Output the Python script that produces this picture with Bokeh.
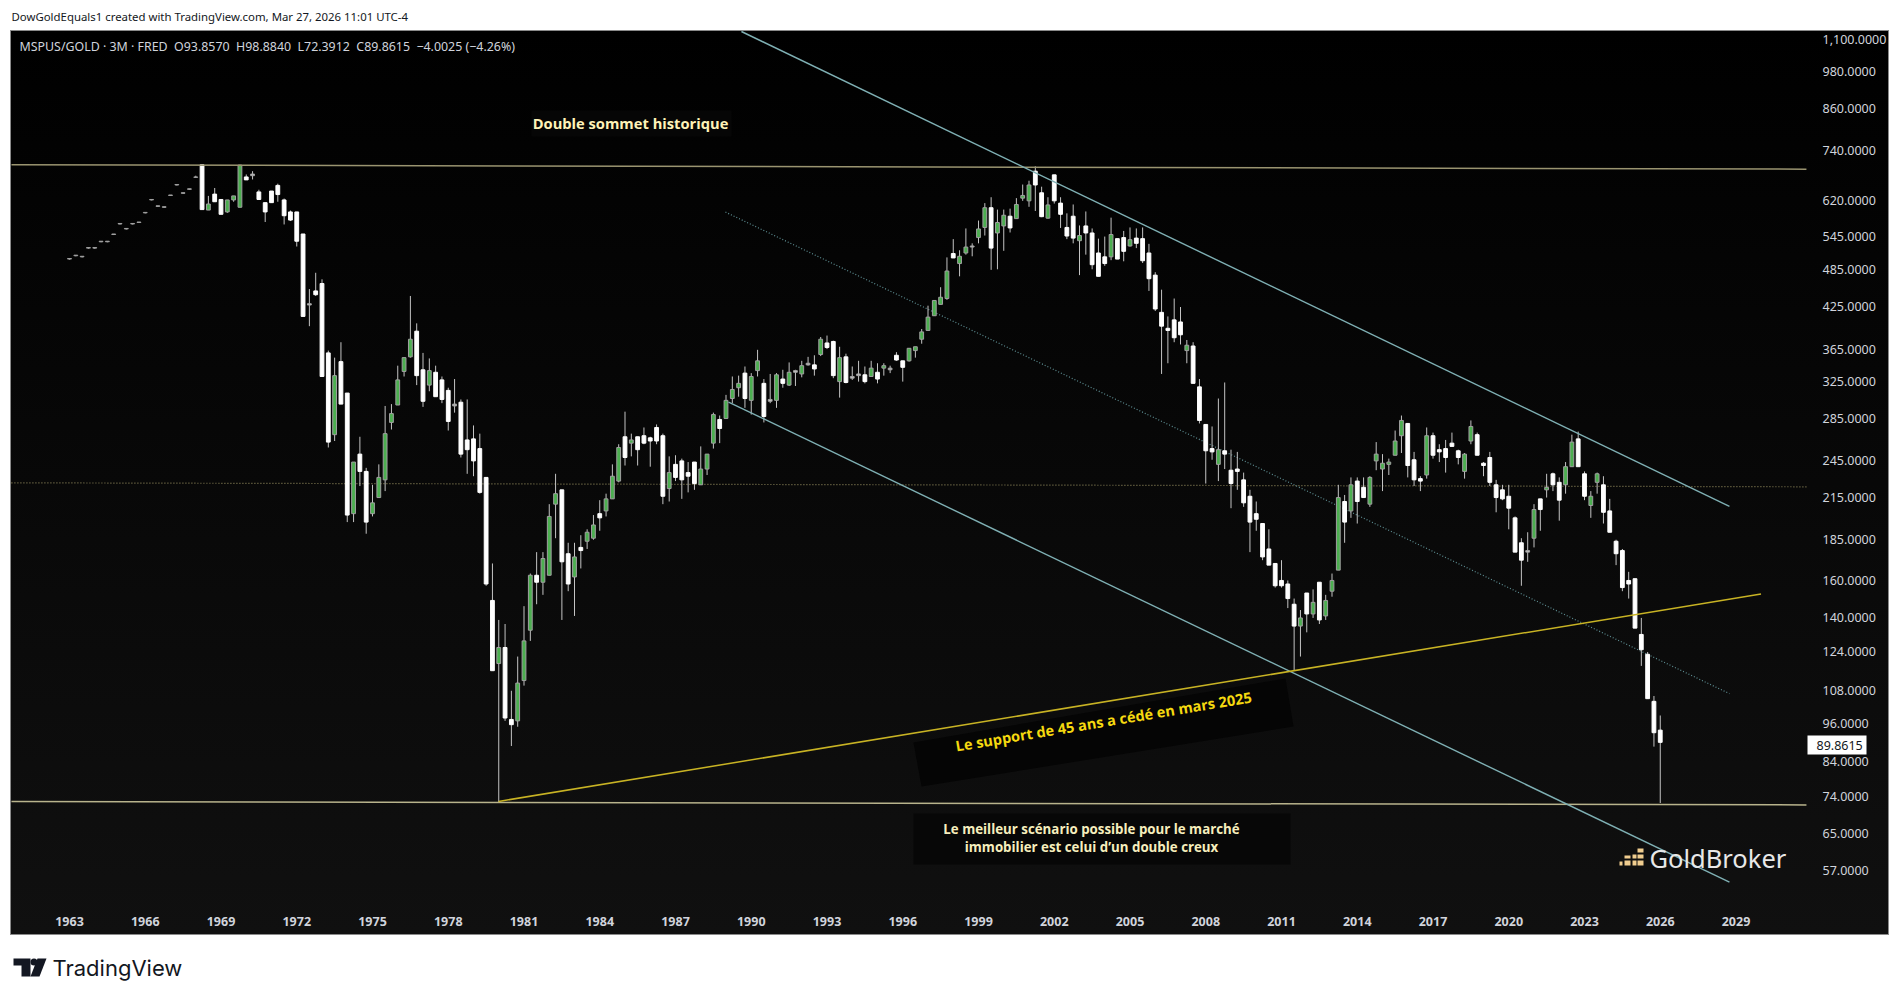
import math
from bokeh.embed import file_html
from bokeh.resources import INLINE
from bokeh.plotting import figure
from bokeh.models import Label, FixedTicker, NumeralTickFormatter, ColumnDataSource

years_start = 1963.0
quarter = 0.25

opens = [504,510,508,524,524,536,536,550,571,561,571,574,594,622,608,606,632,656,637,646,
 674,704,599,634,622,595,621,605,674,681,639,615,641,654,621,595,595,550,429,449,
 461,360,269,349,312,203,251,236,203,215,229,281,299,337,355,389,339,321,336,327,
 315,300,302,264,265,256,231,149,119,126,97.5,97,112,134,163,159,163,210,221,176,
 162,180,184,186,203,205,214,228,267,261,267,268,266,276,268,222,242,245,235,244,
 225,238,261,284,285,306,318,335,304,338,323,303,304,328,321,338,334,347,345,358,
 373,375,325,355,331,334,333,331,336,341,341,357,350,350,363,378,390,411,428,437,
 513,495,514,527,543,563,604,552,566,586,581,625,619,688,637,582,679,614,563,586,
 537,566,552,514,507,507,541,543,527,542,541,514,475,416,393,405,402,363,369,319,
 279,256,242,254,237,238,229,216,203,196,179,170,160,158,147,136,153,142,159,141,
 154,166,212,205,228,223,210,245,238,242,250,268,280,246,230,233,268,255,256,261,
 254,236,263,269,243,248,225,221,216,200,183,178,186,214,221,234,227,225,240,265,
 234,209,227,225,205,184,178,160,161,132,123,104,93.857]
highs = [504,510,508,524,524,536,536,550,571,561,571,574,594,622,608,606,632,656,637,646,
 677,704,630,648,622,621,630,704,680,688,644,615,641,658,624,598,595,550,452,479,
 468,363,354,374,312,244,267,239,225,242,298,300,344,354,441,400,360,353,344,331,
 318,328,305,305,278,270,231,170,139,137,108,122,146,164,177,177,210,234,221,183,
 183,188,192,202,213,218,242,260,292,270,267,276,267,279,270,249,250,247,244,244,
 258,251,291,288,310,331,332,343,335,364,328,334,335,339,348,339,350,355,357,381,
 383,376,368,359,343,350,343,350,347,347,344,361,350,366,368,392,426,434,455,506,
 540,519,561,532,577,614,627,600,600,602,625,656,665,700,651,627,679,627,592,611,
 567,596,561,541,545,583,541,556,563,561,563,531,480,451,410,437,424,377,374,328,
 279,277,306,324,255,253,235,221,212,196,192,170,172,160,150,144,153,155,159,152,
 164,225,217,231,231,231,232,262,251,247,273,288,280,253,232,276,271,260,264,271,
 255,252,283,271,244,253,229,225,225,201,186,190,210,214,234,235,231,244,269,272,
 236,220,235,232,214,185,179,165,161,140,124,106,98.884]
lows = [502,508,506,522,522,534,534,548,569,559,569,572,592,620,606,604,630,654,635,644,
 672,600,599,617,590,593,617,605,667,668,622,574,615,617,569,576,526,410,396,441,
 331,257,263,300,197,197,224,189,201,215,220,274,299,331,354,321,297,314,308,301,
 273,291,248,234,232,218,157,116,72.5,97,88.7,95,110,129,147,152,163,186,139,154,
 141,167,179,185,191,201,214,227,241,249,241,260,240,260,210,212,228,214,219,221,
 225,233,256,261,285,301,308,296,289,331,281,301,296,318,320,320,330,344,332,356,
 365,329,307,323,327,325,323,331,323,332,335,350,325,349,354,372,390,411,428,435,
 505,473,511,508,532,547,484,485,518,553,581,619,606,597,584,581,613,562,540,532,
 475,511,485,473,491,501,503,499,526,523,496,449,418,334,347,374,371,347,323,280,
 226,246,228,238,207,221,208,177,191,172,169,156,156,145,116,122,133,140,137,139,
 151,166,183,200,196,215,208,237,220,233,250,252,231,224,220,230,247,244,235,258,
 242,230,260,250,232,224,204,213,192,177,157,171,180,191,215,220,198,218,240,240,
 213,200,218,196,190,169,154,150,135,118,105,88.5,72.3912]
closes = [503,509,507,523,523,535,535,549,570,560,570,573,593,621,607,605,631,655,636,645,
 673,600,612,617,590,621,630,703,667,677,622,595,615,633,587,578,536,410,427,443,
 331,262,332,300,202,244,236,197,211,231,270,290,327,354,378,332,303,338,308,305,
 282,298,251,255,245,219,158,116,126,98,95.7,111,129,163,159,173,201,218,171,158,
 174,178,190,195,200,214,232,257,248,264,255,261,263,263,216,235,231,229,232,226,
 238,251,289,275,304,316,323,306,331,350,287,305,333,323,336,336,344,345,340,378,
 367,332,354,324,329,332,325,341,328,344,339,351,342,366,368,388,409,434,439,482,
 505,508,525,525,560,604,523,573,588,562,611,631,655,655,585,610,619,590,546,542,
 547,552,493,473,495,549,503,517,539,532,500,469,421,396,390,380,384,370,323,283,
 254,253,255,251,226,236,211,197,199,174,169,157,157,150,136,140,142,148,139,149,
 160,215,197,225,212,215,231,251,243,244,263,283,241,229,228,268,250,253,248,258,
 248,251,277,250,241,227,215,214,207,177,172,177,206,206,223,225,213,240,262,240,
 216,216,234,204,190,176,156,158,135,125,105,93,89.8615]

top_ceiling_x = [1960.70, 2031.79]
top_ceiling_y = [704, 693]
floor_x = [1960.70, 2031.79]
floor_y = [72.8, 71.9]
mid_level_x = [1960.70, 2031.79]
mid_level_y = [226.6, 223.4]
channel_top_x = [1989.61, 2028.74]
channel_top_y = [1131.8, 208.4]
channel_bottom_x = [1989.10, 2028.74]
channel_bottom_y = [302.2, 54.6]
channel_mid_x = [1988.98, 2028.74]
channel_mid_y = [594.6, 106.9]
support_x = [1979.99, 2029.99]
support_y = [72.8, 152.5]

price_ticks = [1100,980,860,740,620,545,485,425,365,325,285,245,215,185,160,140,124,108,96,84,74,65,57]
year_ticks = list(range(1963, 2030, 3))
last_close = 89.8615

assert len(opens) == len(highs) == len(lows) == len(closes) == 253, (len(opens), len(highs), len(lows), len(closes))

# page-pixel helpers for placing decorations only
W, H = 1892, 985
def yr(px):
    return 1963 + (px - 69) / 25.25
def pr(py):
    return 1100 * math.exp(-(py - 39) / 280.6)

t = [years_start + quarter * i for i in range(len(opens))]
def is_doji(o, c):
    return abs(o - c) / max(o, c) < 0.007
fill = ["#4caf50" if c > o and not is_doji(o, c) else ("#c8c8c8" if is_doji(o, c) else "#ffffff")
        for o, c in zip(opens, closes)]
edge = ["#a0a0a0" if c > o or is_doji(o, c) else "#ffffff" for o, c in zip(opens, closes)]
src = ColumnDataSource(dict(t=t, top=[max(o, c) for o, c in zip(opens, closes)],
                            bottom=[min(o, c) for o, c in zip(opens, closes)],
                            high=highs, low=lows, fill=fill, edge=edge))

p = figure(width=W, height=H, x_range=(yr(0), yr(W)), y_range=(pr(H), pr(0)),
           y_axis_type="log", y_axis_location="right", output_backend="svg",
           toolbar_location=None, min_border=0)
p.styles = {"background": "linear-gradient(#000000,#101010) 11px 31px/1877px 903px no-repeat, "
                          "linear-gradient(#8a8a8a,#8a8a8a) 10px 30px/1879px 905px no-repeat"}
p.border_fill_color = None
p.background_fill_color = None
p.outline_line_color = None
p.grid.visible = False

for ax, ticks, fmt in ((p.yaxis[0], price_ticks, "0,0.0000"), (p.xaxis[0], year_ticks, "0")):
    ax.ticker = FixedTicker(ticks=ticks)
    ax.formatter = NumeralTickFormatter(format=fmt)
    ax.axis_line_color = None
    ax.major_tick_line_color = None
    ax.minor_tick_line_color = None
    ax.major_label_text_color = "#d1d4dc"
    ax.major_label_text_font = "Noto Sans"
    ax.major_label_text_font_size = "12.5px"
p.yaxis[0].major_label_standoff = 1816 - W
p.xaxis[0].major_label_standoff = 910 - H
p.xaxis[0].major_label_text_font_style = "bold"

def box(pts, color):
    p.patch([yr(a) for a, b in pts], [pr(b) for a, b in pts], fill_color=color, line_color=None)

box([(531, 110), (731, 110), (731, 136), (531, 136)], "#060606")
box([(913, 742), (1285, 678), (1293, 726), (921, 786)], "#050505")
box([(913, 813), (1290, 813), (1290, 864), (913, 864)], "#070707")

p.line(mid_level_x, mid_level_y, line_color="#8a8358", line_width=1.2, line_dash="1 2")
p.line(channel_mid_x, channel_mid_y, line_color="#5f9095", line_width=1.2, line_dash="1 2")

p.segment("t", "low", "t", "high", source=src, line_color="#c4c4c4", line_width=1)
p.vbar(x="t", width=0.15, top="top", bottom="bottom", source=src, fill_color="fill", line_color="edge", line_width=1)

p.line(top_ceiling_x, top_ceiling_y, line_color="#9a9470", line_width=1.5)
p.line(floor_x, floor_y, line_color="#b8b38c", line_width=1.5)
p.line(channel_top_x, channel_top_y, line_color="#7fb0b4", line_width=1.4)
p.line(channel_bottom_x, channel_bottom_y, line_color="#7fb0b4", line_width=1.4)
p.line(support_x, support_y, line_color="#c8b324", line_width=1.5)

# Gold Broker mark
for col in [(1619, 1622, [(861, 865)]),
            (1624, 1630, [(860, 865), (855, 858)]),
            (1632, 1636, [(860, 865), (854, 858)]),
            (1637, 1643, [(860, 865), (854, 858), (848, 852)])]:
    for top_, bot_ in col[2]:
        box([(col[0], top_), (col[1], top_), (col[1], bot_), (col[0], bot_)], "#f0cd8f")

# TradingView mark
box([(13, 958), (30, 958), (30, 976), (21, 976), (21, 965), (13, 965)], "#131722")
box([(37, 958), (46, 958), (39, 976), (30, 976)], "#131722")
p.scatter([yr(33.5)], [pr(961.5)], marker="circle", size=7, fill_color="#131722", line_color=None)

def label(px, py, text, color, size, font="Open Sans", style="normal", align="center", angle=0.0, **kw):
    p.add_layout(Label(x=yr(px), y=pr(py), text=text, text_color=color, text_font=font,
                       text_font_size=f"{size}px", text_font_style=style, text_align=align,
                       text_baseline="middle", angle=angle, **kw))

gap = "\u00a0\u00a0"
label(630, 122.5, "Double sommet historique", "#fff3b8", 14.7, style="bold")
label(1103, 720.5, "Le support de 45 ans a cédé en mars 2025", "#f5d90f", 14.6, style="bold", angle=0.165)
label(1091, 828, "Le meilleur scénario possible pour le marché", "#f6eebd", 13.3, style="bold")
label(1091, 846, "immobilier est celui d’un double creux", "#f6eebd", 13.3, style="bold")
label(1649, 857, "GoldBroker", "#e8e8e8", 25.5, font="Noto Sans", align="left")
label(19, 46, f"MSPUS/GOLD · 3M · FRED{gap}O93.8570{gap}H98.8840{gap}L72.3912{gap}C89.8615{gap}−4.0025 (−4.26%)",
      "#d1d4dc", 12.4, font="Noto Sans", align="left")
label(11, 16, "DowGoldEquals1 created with TradingView.com, Mar 27, 2026 11:01 UTC-4", "#131722", 11.4, font="Noto Sans", align="left")
label(52, 967, "TradingView", "#131722", 22, font="Inter", align="left")

# price tag on the axis
box([(1807, 735), (1866, 735), (1866, 754), (1807, 754)], "#ffffff")
label(1816, 744.5, "89.8615", "#131722", 12.5, font="Noto Sans", align="left")

open("out.html", "w").write(file_html(p, INLINE))
